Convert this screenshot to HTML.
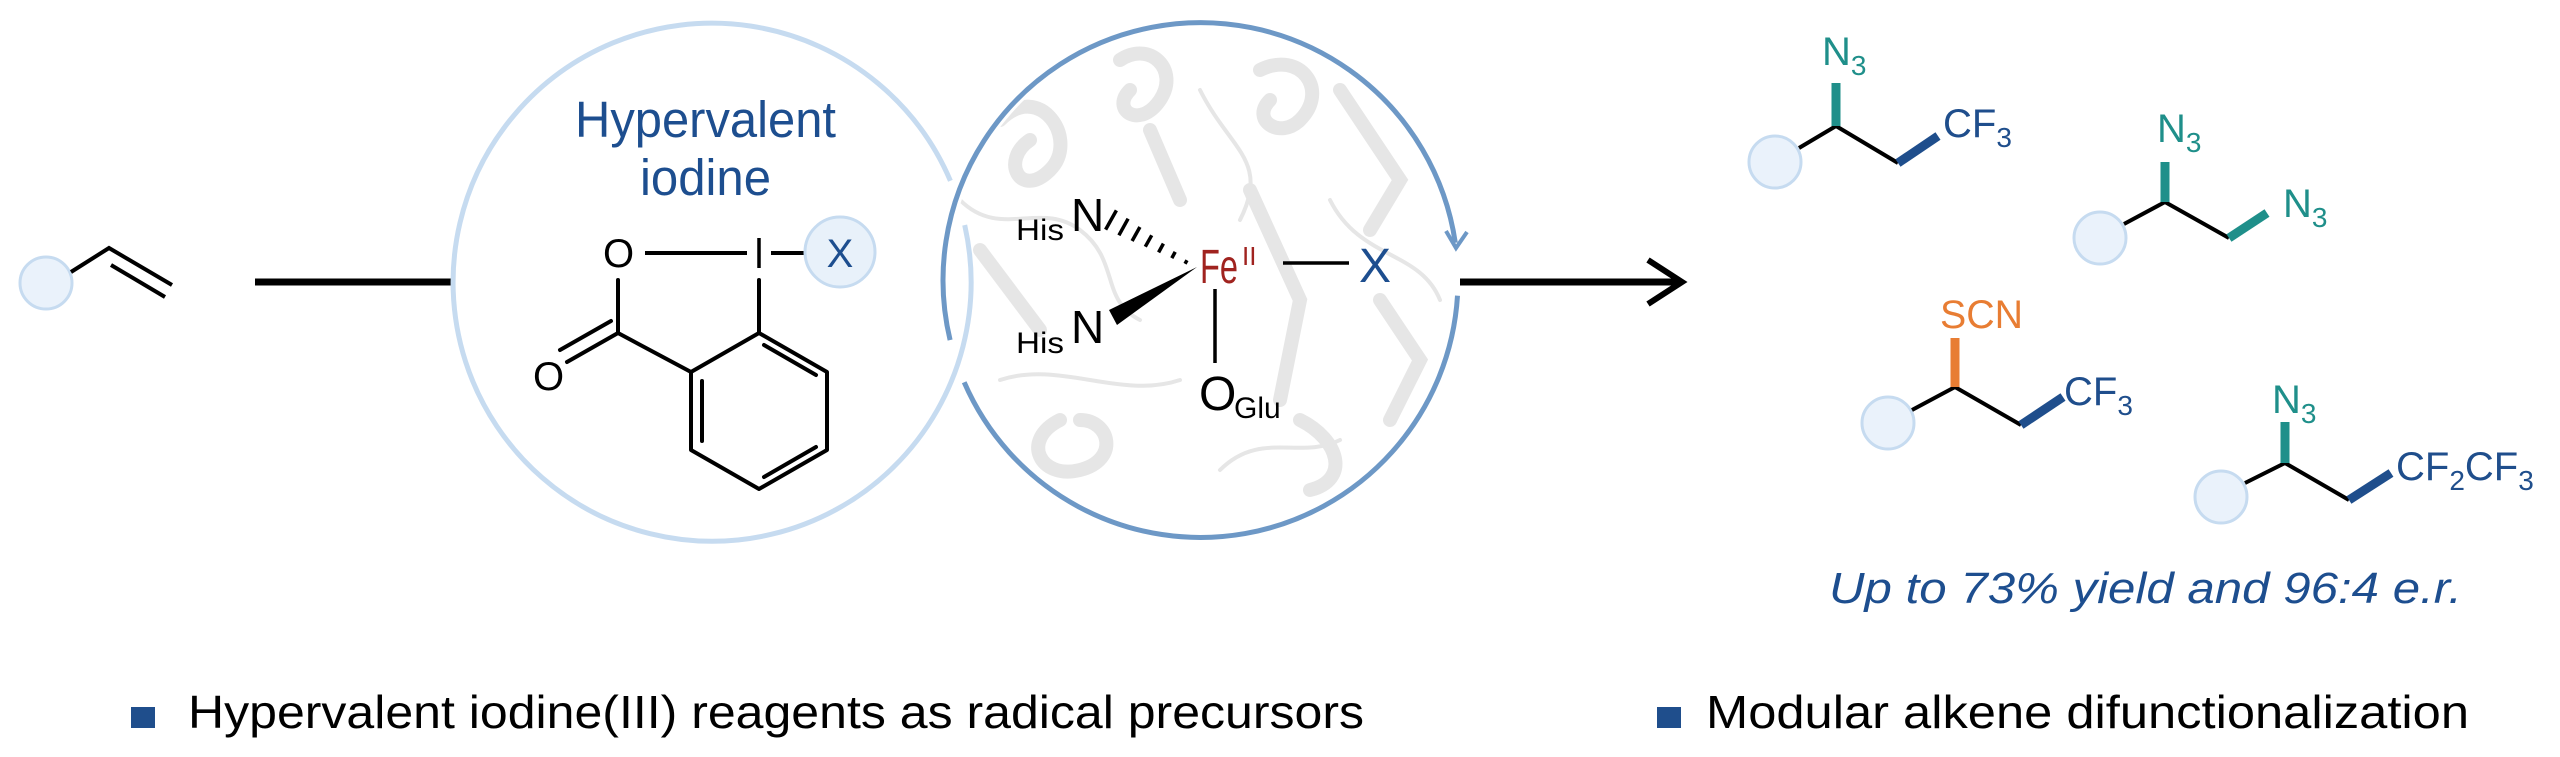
<!DOCTYPE html>
<html><head><meta charset="utf-8"><style>
html,body{margin:0;padding:0;background:#fff;}
svg{display:block;}
text{font-family:"Liberation Sans",Arial,sans-serif;}
</style></head><body>
<svg width="2560" height="757" viewBox="0 0 2560 757" xmlns="http://www.w3.org/2000/svg">
<defs><clipPath id="cp"><circle cx="1200.5" cy="280" r="252"/></clipPath></defs>

<!-- protein texture -->
<g clip-path="url(#cp)" fill="none" stroke-linecap="round">
  <g stroke="#e0e0e0" stroke-width="14" opacity="0.8">
    <path d="M1000 120 C1040 80 1080 140 1050 170 C1020 200 1000 160 1030 140"/>
    <path d="M1120 60 C1150 40 1180 70 1160 100 C1140 130 1110 110 1130 90"/>
    <path d="M1260 70 C1300 50 1330 90 1300 120 C1280 140 1250 120 1270 100"/>
    <path d="M1340 90 L1400 180 L1370 230"/>
    <path d="M1250 190 L1300 300 L1280 400"/>
    <path d="M1150 130 L1180 200"/>
    <path d="M1380 300 L1420 360 L1390 420"/>
    <path d="M1300 420 C1340 440 1350 480 1310 490"/>
    <path d="M1060 420 C1020 440 1040 480 1080 470 C1120 460 1110 420 1080 420"/>
    <path d="M980 250 L1040 330"/>
  </g>
  <g stroke="#e6e6e6" stroke-width="4">
    <path d="M960 200 C1000 240 1040 200 1080 230 C1120 260 1100 300 1140 320"/>
    <path d="M1200 90 C1230 150 1270 160 1240 220"/>
    <path d="M1330 200 C1360 260 1420 250 1440 300"/>
    <path d="M1000 380 C1060 360 1120 400 1180 380"/>
    <path d="M1220 470 C1260 430 1300 460 1340 440"/>
  </g>
</g>

<!-- alkene -->
<circle cx="46" cy="283" r="26" fill="#eaf2fb" stroke="#c6dbf0" stroke-width="3"/>
<polyline points="71,272 109,248 172,285" fill="none" stroke="#000" stroke-width="4"/>
<line x1="111" y1="265" x2="165" y2="297" stroke="#000" stroke-width="4"/>
<line x1="255" y1="282" x2="453" y2="282" stroke="#000" stroke-width="7"/>

<!-- light circle -->
<path d="M964.7 225.1 A259 259 0 1 1 950.4 180.8" fill="none" stroke="#c6dbf0" stroke-width="5"/>
<!-- dark circle -->
<path d="M1457.5 295.7 A257.5 257.5 0 0 1 964.2 382.3" fill="none" stroke="#6d98c6" stroke-width="5"/>
<path d="M950.1 340.1 A257.5 257.5 0 1 1 1455.3 242.8" fill="none" stroke="#6d98c6" stroke-width="5"/>
<polyline points="1446,231 1456,248 1467,232" fill="none" stroke="#6d98c6" stroke-width="4"/>

<!-- hypervalent iodine -->
<text x="575" y="137" font-size="51" fill="#1d4e8f" textLength="261" lengthAdjust="spacingAndGlyphs">Hypervalent</text>
<text x="640" y="195" font-size="51" fill="#1d4e8f" textLength="131" lengthAdjust="spacingAndGlyphs">iodine</text>
<text x="603" y="267" font-size="40" fill="#000">O</text>
<line x1="645" y1="253" x2="747" y2="253" stroke="#000" stroke-width="4"/>
<line x1="759" y1="238" x2="759" y2="268" stroke="#000" stroke-width="3.5"/>
<line x1="771" y1="253" x2="804" y2="253" stroke="#000" stroke-width="4"/>
<circle cx="840" cy="252" r="35" fill="#e8f1fa" stroke="#c6dbf0" stroke-width="3"/>
<text x="840" y="267" font-size="40" fill="#1d4e8f" text-anchor="middle">X</text>
<g stroke="#000" stroke-width="4" fill="none" stroke-linecap="round">
  <line x1="618" y1="280" x2="618" y2="333"/>
  <line x1="759" y1="280" x2="759" y2="333"/>
  <polygon points="759,333 827,372 827,450 759,489 691,450 691,372" stroke-linejoin="round"/>
  <line x1="618" y1="333" x2="691" y2="372"/>
  <line x1="618" y1="333" x2="567" y2="362"/>
  <line x1="611" y1="321" x2="560" y2="350"/>
  <line x1="702" y1="381" x2="702" y2="441"/>
  <line x1="764" y1="345" x2="816" y2="375"/>
  <line x1="764" y1="477" x2="816" y2="447"/>
</g>
<text x="533" y="390" font-size="40" fill="#000">O</text>

<!-- Fe complex -->
<text x="1016" y="240" font-size="30" fill="#000" textLength="48" lengthAdjust="spacingAndGlyphs">His</text>
<text x="1071" y="231" font-size="46" fill="#000">N</text>
<text x="1016" y="353" font-size="30" fill="#000" textLength="48" lengthAdjust="spacingAndGlyphs">His</text>
<text x="1071" y="343" font-size="46" fill="#000">N</text>
<g stroke="#000" stroke-width="3.5">
  <line x1="1105.6" y1="229.6" x2="1116.4" y2="210.4"/>
  <line x1="1118.9" y1="235.3" x2="1128.1" y2="218.7"/>
  <line x1="1132.1" y1="241" x2="1139.9" y2="227"/>
  <line x1="1145.3" y1="246.7" x2="1151.7" y2="235.3"/>
  <line x1="1158.6" y1="252.4" x2="1163.4" y2="243.6"/>
  <line x1="1171.8" y1="258.1" x2="1175.2" y2="251.9"/>
  <line x1="1185" y1="263.7" x2="1187" y2="260.3"/>
</g>
<polygon points="1197,267 1109,310 1117,325" fill="#000"/>
<text x="1200" y="283" font-size="48" fill="#a0231f" textLength="38" lengthAdjust="spacingAndGlyphs">Fe</text>
<text x="1242" y="265" font-size="26" fill="#a0231f">II</text>
<line x1="1283" y1="263" x2="1349" y2="263" stroke="#000" stroke-width="3.5"/>
<text x="1359" y="282" font-size="48" fill="#1d4e8f">X</text>
<line x1="1215" y1="289" x2="1215" y2="363" stroke="#000" stroke-width="3.5"/>
<text x="1199" y="410" font-size="48" fill="#000">O</text>
<text x="1234" y="418" font-size="30" fill="#000">Glu</text>

<!-- arrow -->
<line x1="1460" y1="282" x2="1678" y2="282" stroke="#000" stroke-width="7"/>
<polyline points="1648,260 1682,282 1648,304" fill="none" stroke="#000" stroke-width="6" stroke-linejoin="miter"/>

<!-- products -->
<g fill="#eaf2fb" stroke="#c6dbf0" stroke-width="3">
  <circle cx="1775" cy="162" r="26"/>
  <circle cx="2100" cy="238" r="26"/>
  <circle cx="1888" cy="423" r="26"/>
  <circle cx="2221" cy="497" r="26"/>
</g>
<g stroke="#000" stroke-width="4" fill="none">
  <polyline points="1799,148 1836,126 1898,163"/>
  <polyline points="2124,224 2165,202 2229,238"/>
  <polyline points="1912,410 1955,387 2021,425"/>
  <polyline points="2245,483 2285,463 2349,500"/>
</g>
<g stroke-width="9">
  <line x1="1836" y1="126" x2="1836" y2="83" stroke="#1f8f8a"/>
  <line x1="1898" y1="163" x2="1938" y2="136" stroke="#1f4e8c"/>
  <line x1="2165" y1="202" x2="2165" y2="162" stroke="#1f8f8a"/>
  <line x1="2229" y1="238" x2="2267" y2="213" stroke="#1f8f8a"/>
  <line x1="1955" y1="387" x2="1955" y2="338" stroke="#e87d33"/>
  <line x1="2021" y1="425" x2="2063" y2="397" stroke="#1f4e8c"/>
  <line x1="2285" y1="463" x2="2285" y2="422" stroke="#1f8f8a"/>
  <line x1="2349" y1="500" x2="2391" y2="473" stroke="#1f4e8c"/>
</g>
<text x="1822" y="65" font-size="40" fill="#1f8f8a">N<tspan font-size="28" dy="10">3</tspan></text>
<text x="1943" y="137" font-size="40" fill="#1f4e8c">CF<tspan font-size="28" dy="10">3</tspan></text>
<text x="2157" y="142" font-size="40" fill="#1f8f8a">N<tspan font-size="28" dy="10">3</tspan></text>
<text x="2283" y="217" font-size="40" fill="#1f8f8a">N<tspan font-size="28" dy="10">3</tspan></text>
<text x="1940" y="328" font-size="40" fill="#e87d33" textLength="83" lengthAdjust="spacingAndGlyphs">SCN</text>
<text x="2064" y="405" font-size="40" fill="#1f4e8c">CF<tspan font-size="28" dy="10">3</tspan></text>
<text x="2272" y="413" font-size="40" fill="#1f8f8a">N<tspan font-size="28" dy="10">3</tspan></text>
<text x="2396" y="480" font-size="40" fill="#1f4e8c">CF<tspan font-size="28" dy="10">2</tspan><tspan dy="-10">CF</tspan><tspan font-size="28" dy="10">3</tspan></text>

<text x="1829" y="603" font-size="44" font-style="italic" fill="#1d4e8f" textLength="633" lengthAdjust="spacingAndGlyphs">Up to 73% yield and 96:4 e.r.</text>

<!-- bullets -->
<rect x="131" y="707" width="24" height="21" fill="#1f4e8c"/>
<text x="188" y="728" font-size="46" fill="#000" textLength="1176" lengthAdjust="spacingAndGlyphs">Hypervalent iodine(III) reagents as radical precursors</text>
<rect x="1657" y="707" width="24" height="21" fill="#1f4e8c"/>
<text x="1706" y="728" font-size="46" fill="#000" textLength="763" lengthAdjust="spacingAndGlyphs">Modular alkene difunctionalization</text>
</svg>
</body></html>
